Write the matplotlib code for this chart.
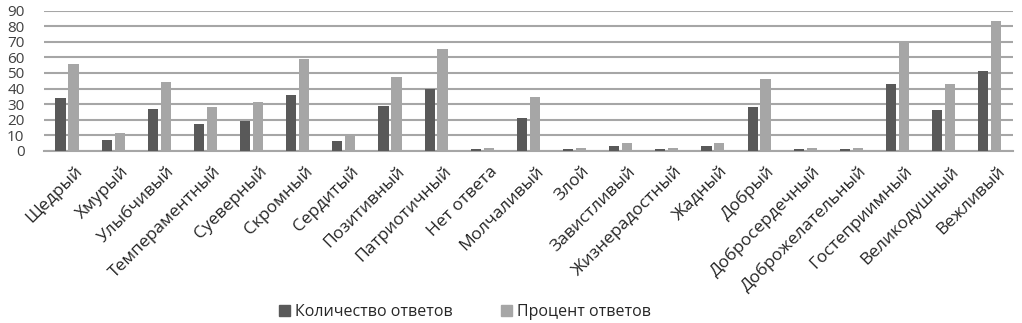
import matplotlib
matplotlib.use("Agg")
import matplotlib.pyplot as plt
import matplotlib.transforms as mtransforms
from matplotlib.patches import Patch
import numpy as np

categories = ["Щедрый", "Хмурый", "Улыбчивый", "Темпераментный", "Суеверный",
              "Скромный", "Сердитый", "Позитивный", "Патриотичный", "Нет ответа",
              "Молчаливый", "Злой", "Завистливый", "Жизнерадостный", "Жадный",
              "Добрый", "Добросердечный", "Доброжелательный", "Гостеприимный",
              "Великодушный", "Вежливый"]
count_values = [34, 7, 27, 17, 19, 36, 6, 29, 40, 1, 21, 1, 3, 1, 3, 28, 1, 1, 43, 26, 51]
percent_values = [55.7, 11.5, 44.3, 27.9, 31.1, 59.0, 9.8, 47.5, 65.6, 1.6, 34.4, 1.6,
                  4.9, 1.6, 4.9, 45.9, 1.6, 1.6, 70.5, 42.6, 83.6]
series_names = ["Количество ответов", "Процент ответов"]
y_ticks = [0, 10, 20, 30, 40, 50, 60, 70, 80, 90]

plt.rcParams['font.family'] = ['Open Sans', 'DejaVu Sans']

fig = plt.figure(figsize=(10.22, 3.23), dpi=100)
ax = fig.add_axes([0.043, 0.534, 0.948, 0.432])

dark = '#595959'
light = '#a6a6a6'
x = np.arange(len(categories))
w = 0.22
ax.bar(x - 0.14, count_values, width=w, color=dark, zorder=3)
ax.bar(x + 0.14, percent_values, width=w, color=light, zorder=3)

ax.set_xlim(-0.5, len(categories) - 0.5)
ax.set_ylim(0, 90)
ax.set_yticks(y_ticks)
ax.set_yticklabels([str(v) for v in y_ticks], fontsize=11, color='#404040')
ax.tick_params(axis='y', length=0, pad=14)
ax.tick_params(axis='x', length=0, pad=2)
ax.set_xticks(x)
ax.set_xticklabels(categories, rotation=45, ha='right', rotation_mode='anchor',
                   fontsize=12.5, color='#262626')
offset = mtransforms.ScaledTranslation(7 / 100, -10 / 100, fig.dpi_scale_trans)
for lbl in ax.get_xticklabels():
    lbl.set_transform(lbl.get_transform() + offset)
ax.grid(axis='y', color='#a6a6a6', linewidth=1.5, zorder=0)
for s in ['top', 'right', 'left']:
    ax.spines[s].set_visible(False)
ax.spines['bottom'].set_color('#a6a6a6')
ax.spines['bottom'].set_linewidth(1.5)

handles = [Patch(color=dark), Patch(color=light)]
fig.legend(handles, series_names, loc='center', bbox_to_anchor=(0.455, 0.035),
           ncol=2, frameon=False, fontsize=11.5, handlelength=0.7, handleheight=0.7,
           handletextpad=0.3, columnspacing=3.0, labelcolor='#262626')

fig.savefig("out.png", dpi=100)
